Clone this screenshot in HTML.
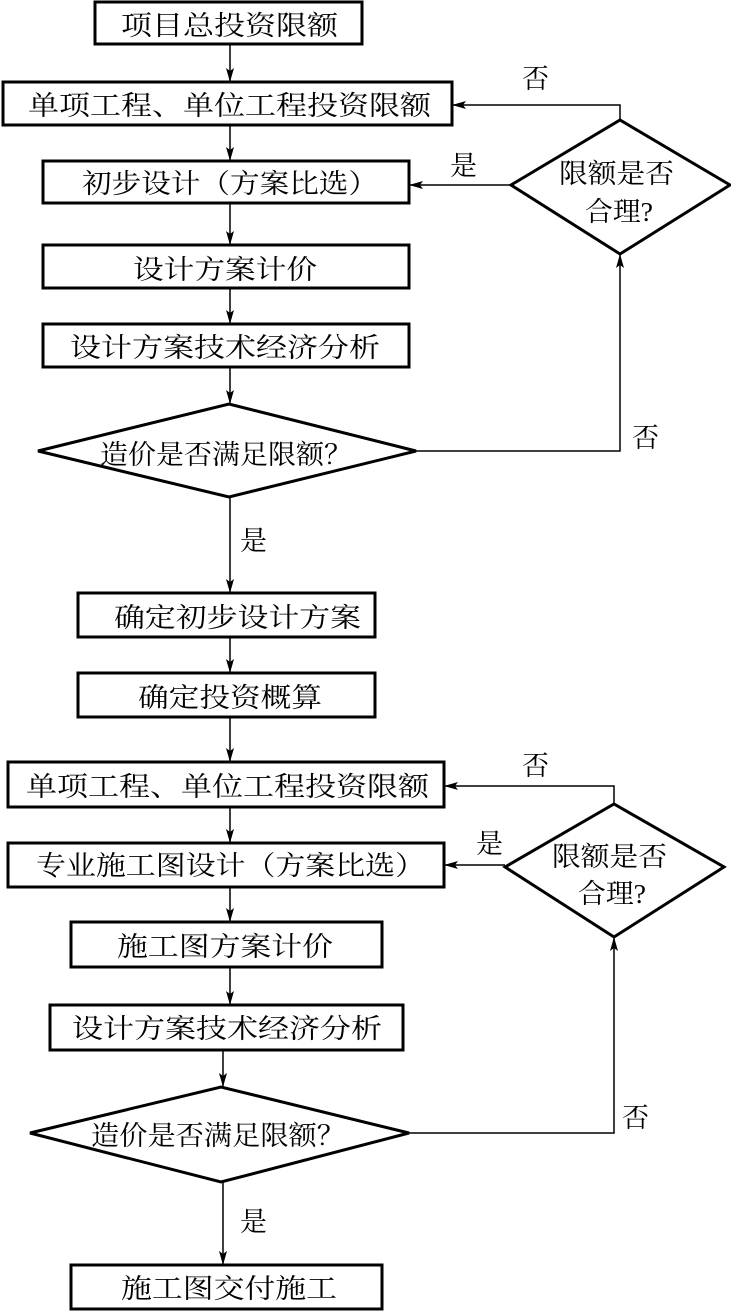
<!DOCTYPE html>
<html><head><meta charset="utf-8"><style>
html,body{margin:0;padding:0;background:#fff;}
svg{display:block;}
text{font-family:"Liberation Serif","Noto Serif CJK SC","Noto Sans CJK SC",serif;font-size:27px;fill:#000;}
</style></head><body>
<svg width="731" height="1311" viewBox="0 0 731 1311" xmlns="http://www.w3.org/2000/svg">
<defs>
<marker id="a" markerWidth="14" markerHeight="10" refX="13" refY="5" orient="auto" markerUnits="userSpaceOnUse">
<path d="M0,1 L14,5 L0,9 L3,5 Z" fill="#000"/>
</marker>
</defs>
<g fill="none" stroke="#000" stroke-width="3">
<rect x="95" y="2" width="267" height="42"/>
<rect x="3" y="82" width="449" height="43"/>
<rect x="43" y="161" width="366" height="42"/>
<rect x="43" y="245" width="366" height="43"/>
<rect x="43" y="324" width="366" height="43"/>
<polygon points="38,451 229,404 416,451 229,497"/>
<polygon points="511,185 620,120 730,185 620,254"/>
<rect x="78" y="593" width="297" height="44"/>
<rect x="78" y="673" width="297" height="44"/>
<rect x="8" y="762" width="436" height="45"/>
<rect x="8" y="843" width="436" height="44"/>
<rect x="71" y="922" width="311" height="45"/>
<polygon points="505,867 614,804 724,867 614,937"/>
<rect x="50" y="1005" width="353" height="45"/>
<polygon points="30,1133 221,1087 409,1133 221,1182"/>
<rect x="71" y="1265" width="311" height="44"/>
</g>
<g fill="none" stroke="#000" stroke-width="1.5" marker-end="url(#a)">
<line x1="230" y1="44" x2="230" y2="81"/>
<line x1="230" y1="125" x2="230" y2="160"/>
<line x1="230" y1="203" x2="230" y2="244"/>
<line x1="230" y1="288" x2="230" y2="323"/>
<line x1="230" y1="367" x2="230" y2="403"/>
<line x1="230" y1="497" x2="230" y2="592"/>
<line x1="230" y1="637" x2="230" y2="672"/>
<line x1="230" y1="717" x2="230" y2="761"/>
<line x1="230" y1="807" x2="230" y2="842"/>
<line x1="230" y1="887" x2="230" y2="921"/>
<line x1="230" y1="967" x2="230" y2="1004"/>
<line x1="223" y1="1050" x2="223" y2="1086"/>
<line x1="223" y1="1182" x2="223" y2="1264"/>
<polyline points="620,120 620,105 453,105"/>
<line x1="511" y1="185" x2="410" y2="185"/>
<polyline points="416,451 620,451 620,255"/>
<polyline points="614,804 614,786 445,786"/>
<line x1="505" y1="865" x2="445" y2="865"/>
<polyline points="409,1133 614,1133 614,938"/>
</g>
<g lengthAdjust="spacingAndGlyphs">
<text x="121" y="35" textLength="217" lengthAdjust="spacingAndGlyphs">项目总投资限额</text>
<text x="28" y="115" textLength="403" lengthAdjust="spacingAndGlyphs">单项工程、单位工程投资限额</text>
<text x="82" y="193" textLength="296" lengthAdjust="spacingAndGlyphs">初步设计（方案比选）</text>
<text x="133" y="279" textLength="184" lengthAdjust="spacingAndGlyphs">设计方案计价</text>
<text x="70" y="357" textLength="310" lengthAdjust="spacingAndGlyphs">设计方案技术经济分析</text>
<text x="100" y="464" textLength="252" lengthAdjust="spacingAndGlyphs">造价是否满足限额？</text>
<text x="559" y="183" textLength="115" lengthAdjust="spacingAndGlyphs">限额是否</text>
<text x="585" y="221" textLength="68" lengthAdjust="spacingAndGlyphs">合理?</text>
<text x="522" y="88">否</text>
<text x="450" y="175">是</text>
<text x="632" y="447">否</text>
<text x="240" y="550">是</text>
<text x="114" y="627" textLength="247" lengthAdjust="spacingAndGlyphs">确定初步设计方案</text>
<text x="138" y="707" textLength="184" lengthAdjust="spacingAndGlyphs">确定投资概算</text>
<text x="26" y="796" textLength="403" lengthAdjust="spacingAndGlyphs">单项工程、单位工程投资限额</text>
<text x="36" y="875" textLength="389" lengthAdjust="spacingAndGlyphs">专业施工图设计（方案比选）</text>
<text x="117" y="956" textLength="216" lengthAdjust="spacingAndGlyphs">施工图方案计价</text>
<text x="552" y="866" textLength="115" lengthAdjust="spacingAndGlyphs">限额是否</text>
<text x="578" y="903" textLength="68" lengthAdjust="spacingAndGlyphs">合理?</text>
<text x="522" y="775">否</text>
<text x="476" y="853">是</text>
<text x="72" y="1038" textLength="310" lengthAdjust="spacingAndGlyphs">设计方案技术经济分析</text>
<text x="91" y="1145" textLength="254" lengthAdjust="spacingAndGlyphs">造价是否满足限额？</text>
<text x="622" y="1127">否</text>
<text x="240" y="1231">是</text>
<text x="121" y="1298" textLength="216" lengthAdjust="spacingAndGlyphs">施工图交付施工</text>
</g>
</svg>
</body></html>
